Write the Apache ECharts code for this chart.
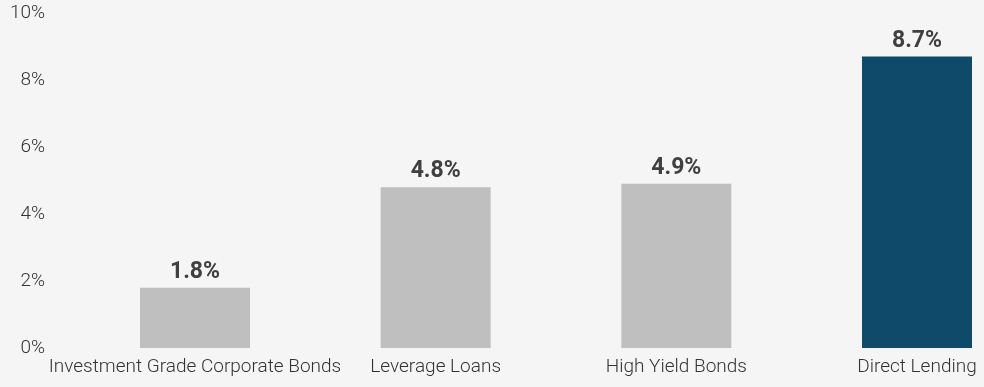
<!DOCTYPE html>
<html>
<head>
<meta charset="utf-8">
<script src="https://cdn.jsdelivr.net/npm/echarts@6/dist/echarts.min.js"></script>
<style>
  html, body { margin: 0; padding: 0; background: #f5f5f5; }
  #chart { width: 984px; height: 387px; }
</style>
</head>
<body>
<div id="chart"></div>
<script>
// Yield by asset class (%)
const categories = ['Investment Grade Corporate Bonds', 'Leverage Loans', 'High Yield Bonds', 'Direct Lending'];
const yields = [1.8, 4.8, 4.9, 8.7];
const barColors = ['#bfbfbf', '#bfbfbf', '#bfbfbf', '#0f4a6b'];
const yTicks = [0, 2, 4, 6, 8, 10];

const chart = echarts.init(document.getElementById('chart'), null, { renderer: 'canvas' });
chart.setOption({
  backgroundColor: '#f5f5f5',
  animation: false,
  textStyle: { fontFamily: 'Roboto' },
  grid: { left: 195, right: 67, top: 13, bottom: 39 },
  xAxis: {
    type: 'category',
    data: categories,
    boundaryGap: false,
    axisLine: { show: false },
    axisTick: { show: false },
    axisLabel: { color: '#333333', fontSize: 19, fontWeight: 300, margin: 10, interval: 0 }
  },
  yAxis: {
    type: 'value',
    min: yTicks[0],
    max: yTicks[yTicks.length - 1],
    interval: 2,
    offset: 142,
    splitLine: { show: false },
    axisLine: { show: false },
    axisTick: { show: false },
    axisLabel: { color: '#333333', fontSize: 19, fontWeight: 300, margin: 8, formatter: v => v + '%' }
  },
  series: [{
    type: 'bar',
    barWidth: 110,
    data: yields.map((v, i) => ({ value: v, itemStyle: { color: barColors[i] } })),
    label: {
      show: true,
      position: 'top',
      distance: 4,
      color: '#404040',
      fontWeight: 'bold',
      fontSize: 23,
      formatter: p => p.value.toFixed(1) + '%'
    }
  }]
});
</script>
</body>
</html>
